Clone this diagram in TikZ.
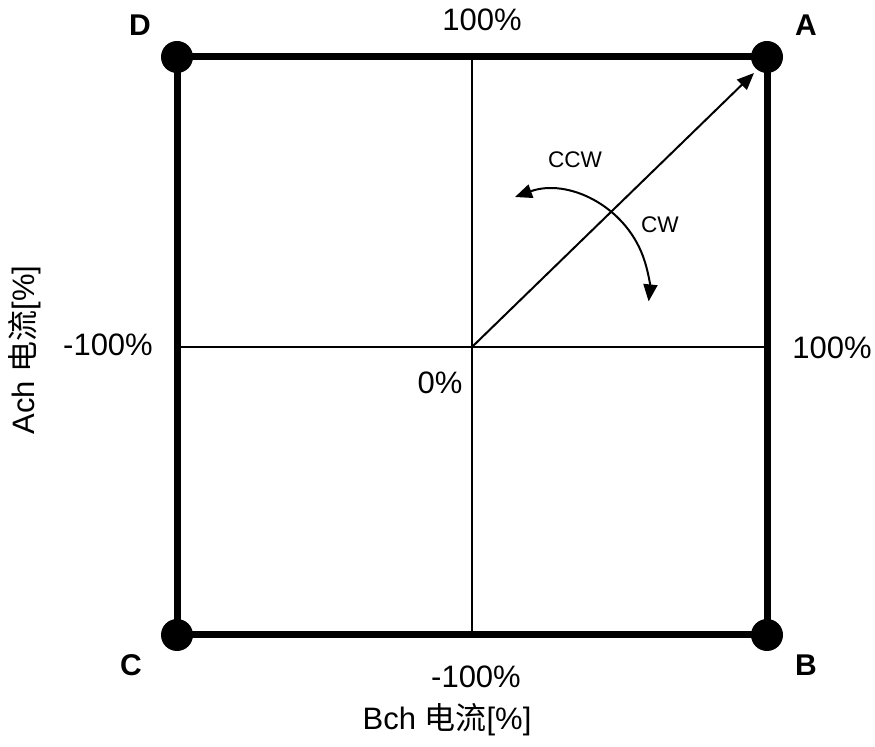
\documentclass[tikz,border=0pt]{standalone}
\usepackage{fontspec}
\setmainfont{Liberation Sans}
\newfontfamily\cjk{Noto Sans CJK SC}
\usetikzlibrary{calc,positioning,arrows.meta}
\tikzset{
  corner/.style={circle,fill=black,inner sep=0pt,minimum size=16pt},
  clab/.style={font=\fontsize{15}{18}\selectfont\bfseries,inner sep=0pt},
  tick/.style={font=\fontsize{15.5}{18}\selectfont,inner sep=0pt},
  rot/.style={font=\fontsize{11.3}{13}\selectfont,inner sep=0pt},
  vec/.style={-{Triangle[length=8.5pt,width=7pt]},line width=1pt},
  turn/.style={{Triangle[length=8.5pt,width=7pt]}-{Triangle[length=8.5pt,width=7pt]},line width=1pt},
}
\begin{document}
\begin{tikzpicture}[x=0.5pt,y=-0.5pt]
\useasboundingbox (0,0) rectangle (875,747);
\node[corner] (D) at (177,57)  {};
\node[corner] (A) at (767,57)  {};
\node[corner] (C) at (177,635) {};
\node[corner] (B) at (767,635) {};
\coordinate (O)  at (472,347);
\coordinate (top) at (472,57);
\coordinate (bot) at (472,635);
\coordinate (lft) at (177,347);
\coordinate (rgt) at (767,347);
% axes
\draw[line width=0.75pt] (top) -- (bot);
\draw[line width=0.75pt] (lft) -- (rgt);
% frame
\draw[line width=3.5pt] (D.center) -- (A.center) -- (B.center) -- (C.center) -- cycle;
\node[clab] (labD) at (140,25)  {D};
\node[clab] (labA) at (806,25)  {A};
\node[clab] (labC) at (131,665) {C};
\node[clab] (labB) at (806,665) {B};
\node[tick] (t100)  at (482,20)  {100\%};
\node[tick] (l100)  at (108,345) {-100\%};
\node[tick] (r100)  at (832,348) {100\%};
\node[tick] (zero)  at (440,383) {0\%};
\node[tick] (b100)  at (476,677) {-100\%};
\node[tick] (xlab)  at (447,720) {Bch {\cjk 电流}[\%]};
\node[tick,rotate=90] (ylab) at (25,350) {Ach {\cjk 电流}[\%]};
% current vector
\coordinate (tip) at (754,73);
\draw[vec] (O) -- (tip);
% rotation
\coordinate (ccwend) at (515,197);
\draw[turn] (ccwend) arc[start angle=250,end angle=366,radius=100];
\node[rot] (ccw) at (575,160) {CCW};
\node[rot] (cw)  at (660,225) {CW};
\end{tikzpicture}
\end{document}
